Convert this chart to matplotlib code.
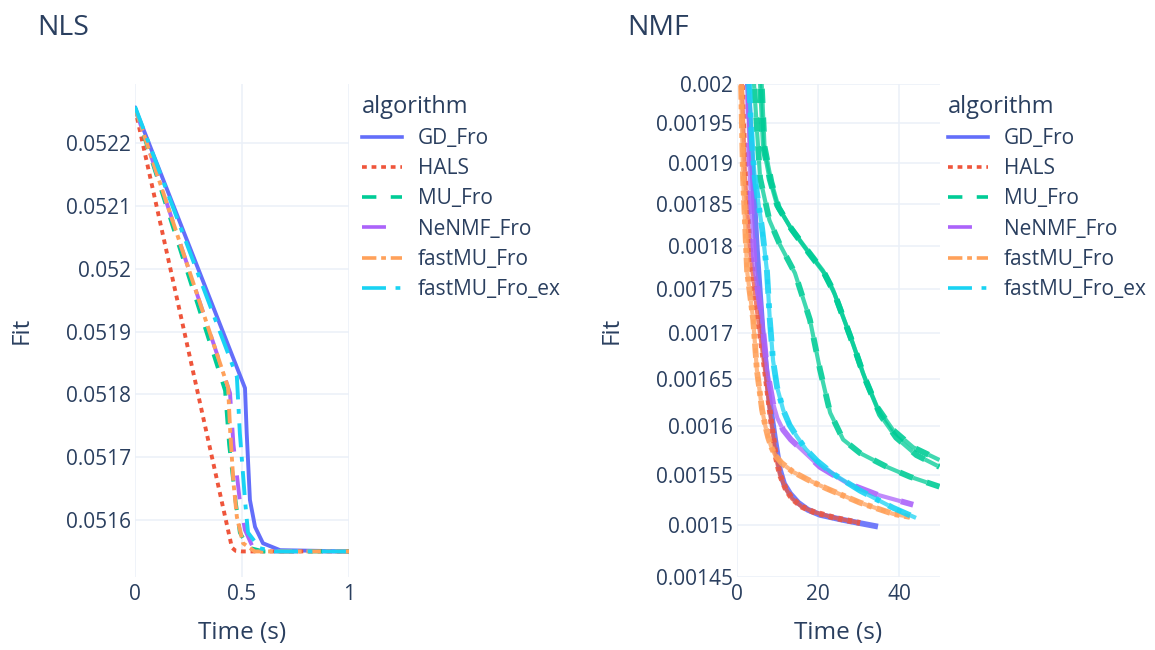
import matplotlib.pyplot as plt
from matplotlib.lines import Line2D
from matplotlib.ticker import FixedLocator, FuncFormatter, NullLocator

plt.rcParams['font.family'] = ['Open Sans', 'DejaVu Sans']
plt.rcParams['lines.scale_dashes'] = False

W, H = 1155, 650
TEXT = '#2a3f5f'
GRID = '#ebf0f8'

algorithms = ['GD_Fro', 'HALS', 'MU_Fro', 'NeNMF_Fro', 'fastMU_Fro', 'fastMU_Fro_ex']
colors = ['#636efa', '#EF553B', '#00cc96', '#ab63fa', '#FFA15A', '#19d3f3']

# dash patterns (points), plotly style: solid, dot, dash, longdash, dashdot, longdashdot
u = 3.45
patterns = [None, (u, u), (3 * u, 3 * u), (5 * u, 5 * u),
            (3 * u, u, u, u), (5 * u, 2 * u, u, 2 * u)]
styles = ['-' if p is None else (0, p) for p in patterns]

# ---- NLS : fit vs time (s)
nls_gd_t = [0, 0.514, 0.522, 0.537, 0.561, 0.598, 0.678, 1.0]
nls_gd_y = [0.052256, 0.05181, 0.051738, 0.051632, 0.051589, 0.051563, 0.051552, 0.05155]
nls_hals_t = [0, 0.453, 0.47, 0.5, 1.0]
nls_hals_y = [0.052255, 0.051556, 0.051551, 0.05155, 0.05155]
nls_mu_t = [0, 0.421, 0.44, 0.47, 0.49, 0.53, 0.6, 1.0]
nls_mu_y = [0.052256, 0.051806, 0.05172, 0.05163, 0.05158, 0.051556, 0.05155, 0.05155]
nls_nenmf_t = [0, 0.444, 0.46, 0.49, 0.514, 0.55, 0.62, 1.0]
nls_nenmf_y = [0.052256, 0.051802, 0.05172, 0.05163, 0.051584, 0.051557, 0.05155, 0.05155]
nls_fastmu_t = [0, 0.435, 0.445, 0.46, 0.476, 0.505, 0.56, 1.0]
nls_fastmu_y = [0.052256, 0.051811, 0.05174, 0.05166, 0.051605, 0.051563, 0.05155, 0.05155]
nls_fastmu_ex_t = [0, 0.476, 0.49, 0.514, 0.528, 0.584, 0.65, 1.0]
nls_fastmu_ex_y = [0.052258, 0.051828, 0.051738, 0.051632, 0.05158, 0.051555, 0.05155, 0.05155]

# ---- NMF : fit vs time (s), several runs for MU
nmf_gd_t = [2.2, 2.7, 3.7, 4.9, 6.4, 8.1, 9.4, 10.6, 11.6, 13.1, 15.1, 17.5, 20.5, 26.2, 34.1]
nmf_gd_y = [0.00212, 0.002, 0.001903, 0.001795, 0.001696, 0.001624, 0.001586, 0.001555,
            0.001541, 0.001531, 0.001522, 0.001515, 0.00151, 0.001505, 0.001499]
nmf_hals_t = [0.8, 1.2, 2.0, 3.2, 4.9, 6.9, 8.4, 9.6, 10.6, 12.0, 13.6, 16.0, 18.8, 24.2, 30.4]
nmf_hals_y = [0.00212, 0.002, 0.001881, 0.001795, 0.001726, 0.00166, 0.001606, 0.001568,
              0.00155, 0.001536, 0.001526, 0.001518, 0.001513, 0.001507, 0.001502]
nmf_mu_a_t = [5.2, 5.7, 6.4, 8.1, 9.9, 13.1, 17.3, 21.2, 23.7, 26.2, 28.6, 31.1, 34.6, 38.5, 43.5, 50.0]
nmf_mu_a_y = [0.00207, 0.002, 0.001922, 0.001879, 0.001848, 0.001822, 0.001795, 0.001771, 0.001749,
              0.001718, 0.001689, 0.001656, 0.00162, 0.001596, 0.001578, 0.001565]
nmf_mu_b_t = [5.6, 6.1, 6.8, 8.5, 10.3, 13.5, 17.6, 21.5, 24.1, 26.7, 29.2, 31.8, 35.3, 39.3, 44.3, 50.0]
nmf_mu_b_y = [0.00207, 0.002, 0.00192, 0.001876, 0.001845, 0.001819, 0.001792, 0.001768, 0.001744,
              0.001712, 0.001681, 0.001648, 0.001612, 0.001588, 0.00157, 0.001558]
nmf_mu_c_t = [3.8, 4.2, 5.7, 8.0, 10.6, 14.3, 18.0, 20.5, 23.0, 26.2, 30.4, 37.0, 42.7, 50.0]
nmf_mu_c_y = [0.00207, 0.002, 0.001881, 0.00183, 0.001801, 0.001768, 0.001715, 0.00166, 0.001614,
              0.001586, 0.001572, 0.001558, 0.001548, 0.001538]
nmf_nenmf_t = [2.3, 2.7, 3.2, 4.4, 6.2, 7.4, 8.9, 10.0, 11.4, 13.3, 15.6, 20.5, 27.2, 34.6, 43.5]
nmf_nenmf_y = [0.00212, 0.002, 0.001879, 0.001771, 0.001715, 0.00166, 0.001624, 0.001608,
               0.001596, 0.001586, 0.001577, 0.001558, 0.0015415, 0.00153, 0.00152]
nmf_fastmu_t = [0.7, 1.0, 1.5, 2.5, 4.0, 4.9, 6.2, 7.0, 7.7, 8.5, 9.4, 11.0, 13.8, 17.5, 22.2, 30.4, 38.5, 42.7]
nmf_fastmu_y = [0.00212, 0.002, 0.001881, 0.00177, 0.001715, 0.00166, 0.001617, 0.0016, 0.001588,
                0.001578, 0.00157, 0.001562, 0.001553, 0.001545, 0.001536, 0.001522, 0.001511, 0.001508]
nmf_fastmu_ex_t = [2.6, 3.0, 3.7, 4.4, 6.2, 7.4, 8.1, 8.9, 9.9, 11.4, 13.0, 14.8, 17.0, 19.8, 23.7,
                   30.4, 38.5, 44.2]
nmf_fastmu_ex_y = [0.00207, 0.002, 0.001922, 0.001881, 0.00182, 0.00177, 0.001715, 0.00167, 0.001641,
                   0.001617, 0.001601, 0.001589, 0.001576, 0.001564, 0.001551, 0.001534, 0.001517,
                   0.001507]

nls_ticks_x = [0, 0.5, 1]
nls_ticks_y = [0.0516, 0.0517, 0.0518, 0.0519, 0.052, 0.0521, 0.0522]
nmf_ticks_x = [0, 20, 40]
nmf_ticks_y = [0.00145, 0.0015, 0.00155, 0.0016, 0.00165, 0.0017, 0.00175,
               0.0018, 0.00185, 0.0019, 0.00195, 0.002]

nls_runs = [
    (0, nls_gd_t, nls_gd_y), (1, nls_hals_t, nls_hals_y), (2, nls_mu_t, nls_mu_y),
    (3, nls_nenmf_t, nls_nenmf_y), (4, nls_fastmu_t, nls_fastmu_y),
    (5, nls_fastmu_ex_t, nls_fastmu_ex_y),
]
nmf_runs = [
    (0, nmf_gd_t, nmf_gd_y), (1, nmf_hals_t, nmf_hals_y),
    (2, nmf_mu_a_t, nmf_mu_a_y), (2, nmf_mu_b_t, nmf_mu_b_y), (2, nmf_mu_c_t, nmf_mu_c_y),
    (3, nmf_nenmf_t, nmf_nenmf_y), (4, nmf_fastmu_t, nmf_fastmu_y),
    (5, nmf_fastmu_ex_t, nmf_fastmu_ex_y),
]


def box(x0, y0, x1, y1):
    return [x0 / W, 1 - y1 / H, (x1 - x0) / W, (y1 - y0) / H]


def style_axes(ax, xticks, yticks, ylab_x):
    for s in ax.spines.values():
        s.set_visible(False)
    ax.xaxis.set_major_locator(FixedLocator(xticks))
    ax.yaxis.set_major_locator(FixedLocator(yticks))
    ax.xaxis.set_minor_locator(NullLocator())
    ax.yaxis.set_minor_locator(NullLocator())
    fmt = FuncFormatter(lambda v, p: '%g' % v)
    ax.xaxis.set_major_formatter(fmt)
    ax.yaxis.set_major_formatter(fmt)
    ax.tick_params(length=0, labelsize=15, colors=TEXT)
    ax.tick_params(axis='x', pad=5)
    ax.tick_params(axis='y', pad=3)
    ax.grid(True, color=GRID, lw=1.1)
    ax.set_axisbelow(True)
    ax.set_xlabel('Time (s)', fontsize=17.5, color=TEXT, va='center')
    ax.set_ylabel('Fit', fontsize=17.5, color=TEXT, va='center')
    ax.xaxis.set_label_coords(0.5, -0.1136)
    ax.yaxis.set_label_coords(ylab_x, 0.5)


def add_legend(ax, x, y):
    handles = [Line2D([], [], color=c, lw=2.6, linestyle=s) for c, s in zip(colors, styles)]
    leg = ax.legend(handles, algorithms, title='algorithm', loc='upper left',
                    bbox_to_anchor=(x / W, 1 - y / H), bbox_transform=fig.transFigure,
                    frameon=False, fontsize=15, title_fontsize=17, borderpad=0,
                    borderaxespad=0, handlelength=1.92, handletextpad=0.77,
                    labelspacing=0.44, alignment='left')
    for t in leg.get_texts():
        t.set_color(TEXT)
    leg.get_title().set_color(TEXT)


fig = plt.figure(figsize=(W / 100, H / 100), dpi=100)

ax1 = fig.add_axes(box(135, 84, 349, 577))
for i, t, y in nls_runs:
    ax1.plot(t, y, color=colors[i], lw=2.8, linestyle=styles[i])
ax1.set_xlim(0, 1)
ax1.set_ylim(0.0515093, 0.0522939)
style_axes(ax1, nls_ticks_x, nls_ticks_y, -0.528)
add_legend(ax1, 362, 95)

ax2 = fig.add_axes(box(737, 84, 939.5, 577))
for i, t, y in nmf_runs:
    # overlapping runs: a second pass with shifted dash phase thickens the band
    ax2.plot(t, y, color=colors[i], lw=4.2, linestyle=styles[i], alpha=0.9)
    if patterns[i] is not None:
        half = sum(patterns[i]) / 2
        ax2.plot(t, y, color=colors[i], lw=3.0, linestyle=(half, patterns[i]), alpha=0.75)
ax2.set_yscale('log')
ax2.set_xlim(0, 50)
ax2.set_ylim(0.00145, 0.002)
style_axes(ax2, nmf_ticks_x, nmf_ticks_y, -0.617)
add_legend(ax2, 948, 95)

fig.text(37 / W, 1 - 28 / H, 'NLS', fontsize=20.5, color=TEXT, va='center', ha='left')
fig.text(627 / W, 1 - 28 / H, 'NMF', fontsize=20.5, color=TEXT, va='center', ha='left')

fig.savefig('out.png', dpi=100, facecolor='white')
